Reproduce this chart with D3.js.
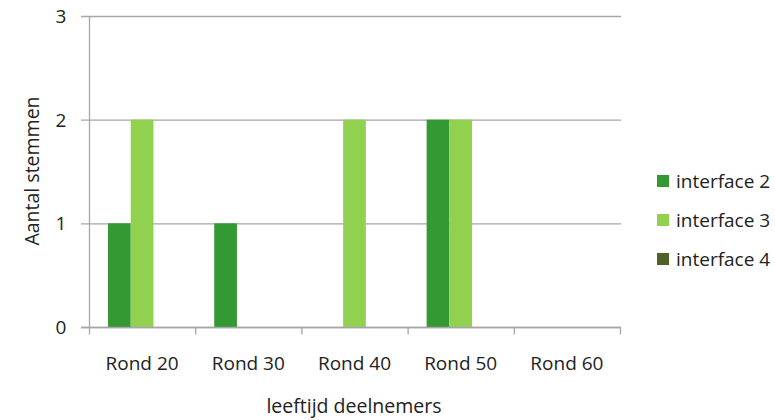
<!DOCTYPE html>
<html><head><meta charset="utf-8">
<script src="https://cdn.jsdelivr.net/npm/d3@7/dist/d3.min.js"></script>
<style>body{margin:0;background:#fff}svg{display:block}text{font-family:"Open Sans","Noto Sans",sans-serif;fill:#222}</style>
</head><body>
<script>
const categories = ["Rond 20","Rond 30","Rond 40","Rond 50","Rond 60"];
const seriesNames = ["interface 2","interface 3","interface 4"];
const interface2 = [1,1,0,2,0];
const interface3 = [2,0,2,2,0];
const interface4 = [0,0,0,0,0];
const yTicks = [0,1,2,3];
const colors = ["#339933","#92d050","#4f6228"];
const seriesValues = [interface2, interface3, interface4];

const W=775,H=420;
const svg=d3.select("body").append("svg").attr("width",W).attr("height",H);
const x0=d3.scaleBand().domain(categories).range([89,620]).paddingInner(0).paddingOuter(0);
const x1=d3.scaleBand().domain(seriesNames).range([0,x0.bandwidth()]).paddingInner(0).paddingOuter(0.837);
const y=d3.scaleLinear().domain([0,3]).range([327,16]);

// gridlines
svg.append("g").selectAll("line").data(yTicks).join("line")
 .attr("x1",81).attr("x2",621).attr("y1",d=>y(d)+0.5).attr("y2",d=>y(d)+0.5)
 .attr("stroke","#a6a6a6").attr("stroke-width",1.3);
// y axis line
svg.append("line").attr("x1",89.5).attr("x2",89.5).attr("y1",y(3)).attr("y2",y(0)).attr("stroke","#a6a6a6").attr("stroke-width",1.3);
// y labels
svg.append("g").selectAll("text").data(yTicks).join("text")
 .attr("x",61).attr("y",d=>y(d)+7).attr("text-anchor","middle").attr("font-size",19).text(d=>d);

// bars
const g=svg.append("g");
seriesNames.forEach((s,i)=>{
  g.selectAll(null).data(categories.map((c,j)=>({c,v:seriesValues[i][j]}))).join("rect")
   .attr("x",d=>x0(d.c)+x1(s)).attr("width",x1.bandwidth())
   .attr("y",d=>y(d.v)).attr("height",d=>y(0)-y(d.v))
   .attr("fill",colors[i]);
});

// x axis
const xa=svg.append("g").attr("transform","translate(0,327.5)");
xa.append("line").attr("x1",81).attr("x2",621).attr("stroke","#a6a6a6").attr("stroke-width",1.3);
const tickXs=categories.map(c=>x0(c)).concat([x0.range()[1]]);
xa.selectAll("line.t").data(tickXs).join("line").attr("class","t")
 .attr("x1",d=>d+0.5).attr("x2",d=>d+0.5).attr("y1",0).attr("y2",7).attr("stroke","#a6a6a6").attr("stroke-width",1.3);
xa.selectAll("text").data(categories).join("text")
 .attr("x",d=>x0(d)+x0.bandwidth()/2).attr("y",42).attr("text-anchor","middle").attr("font-size",19).text(d=>d);

// axis titles
svg.append("text").attr("x",354).attr("y",413).attr("text-anchor","middle").attr("font-size",19.5).text("leeftijd deelnemers");
svg.append("text").attr("transform","translate(39,171) rotate(-90)").attr("text-anchor","middle").attr("font-size",19.5).text("Aantal stemmen");

// legend
const lg=svg.append("g").selectAll("g").data(seriesNames).join("g")
 .attr("transform",(d,i)=>`translate(657,${175+i*39})`);
lg.append("rect").attr("width",12).attr("height",12).attr("fill",(d,i)=>colors[i]);
lg.append("text").attr("x",19).attr("y",13).attr("font-size",19).text(d=>d);
</script>
</body></html>
